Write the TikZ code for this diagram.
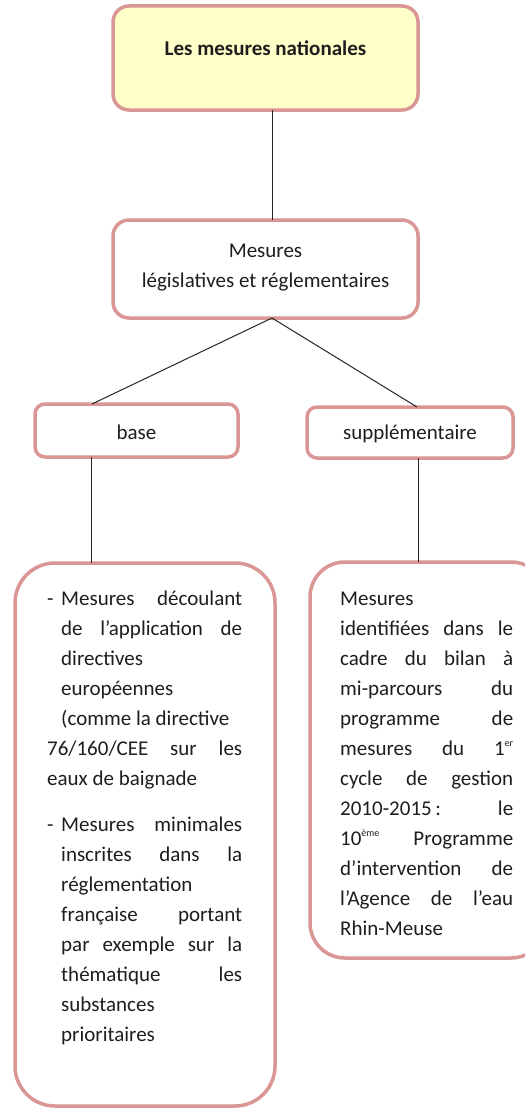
\documentclass[tikz,border=0pt]{standalone}
\usepackage{fontspec}
\setmainfont{Carlito}
\definecolor{pinkc}{RGB}{217,150,148}
\definecolor{yellowc}{RGB}{255,255,200}
\definecolor{textc}{RGB}{30,30,30}
\newcommand{\sj}[2]{\makebox[#1][s]{#2}}
\newcommand{\mysup}[1]{\raisebox{9pt}{\fontsize{10}{10}\selectfont #1}}
\begin{document}
\begin{tikzpicture}[x=1pt,y=-1pt,
  box/.style={draw=pinkc, line width=3.5pt, rectangle, inner sep=0pt, outer sep=0pt},
  lbl/.style={inner sep=0pt, text=textc, font=\fontsize{21}{30}\selectfont},
  conn/.style={draw=black!85, line width=1pt}]
\useasboundingbox (0,0) rectangle (525,1108);
\clip (0,0) rectangle (525,1108);
\fill[white] (0,0) rectangle (525,1108);
% boxes
\node[box, fill=yellowc, rounded corners=16pt, minimum width=305pt, minimum height=104pt] (topbox) at (265.5,58) {};
\node[box, rounded corners=16pt, minimum width=305pt, minimum height=98pt] (midbox) at (265.5,269) {};
\node[box, rounded corners=10pt, minimum width=203pt, minimum height=53pt] (basebox) at (136.5,430.5) {};
\node[box, rounded corners=10pt, minimum width=206pt, minimum height=51pt] (suppbox) at (410,432.5) {};
\node[box, rounded corners=40pt, minimum width=260pt, minimum height=543pt] (leftbox) at (145,834.5) {};
\node[box, rounded corners=35pt, minimum width=236pt, minimum height=396pt] (rightbox) at (428,760) {};
% labels
\node[lbl, font=\fontsize{21}{30}\selectfont\bfseries] (toplbl) at (265.5,48) {Les mesures nationales};
\node[lbl, align=center] (midlbl) at (265.5,268) {Mesures\\législatives et réglementaires};
\node[lbl] (baselbl) at (136.5,432) {base};
\node[lbl] (supplbl) at (410,434) {supplémentaire};
\node[lbl, anchor=base west] (lefttxt) at (47,605) {\parbox[t]{195pt}{\fontsize{21}{30}\selectfont
\makebox[14pt][l]{-}\sj{181pt}{Mesures découlant}\\
\hspace*{14pt}\sj{181pt}{de l’application de}\\
\hspace*{14pt}directives\\
\hspace*{14pt}européennes\\
\hspace*{14pt}(comme la directive\\
\sj{195pt}{76/160/CEE sur les}\\
eaux de baignade\\[16pt]
\makebox[14pt][l]{-}\sj{181pt}{Mesures minimales}\\
\hspace*{14pt}\sj{181pt}{inscrites dans la}\\
\hspace*{14pt}réglementation\\
\hspace*{14pt}\sj{181pt}{française portant}\\
\hspace*{14pt}\sj{181pt}{par exemple sur la}\\
\hspace*{14pt}\sj{181pt}{thématique les}\\
\hspace*{14pt}substances\\
\hspace*{14pt}prioritaires}};
\node[lbl, anchor=base west] (righttxt) at (340,605) {\parbox[t]{173pt}{\fontsize{21}{30}\selectfont
Mesures\\
\sj{173pt}{identifiées dans le}\\
\sj{173pt}{cadre du bilan à}\\
\sj{173pt}{mi-parcours du}\\
\sj{173pt}{programme de}\\
\sj{173pt}{mesures du 1\mysup{er}}\\
\sj{173pt}{cycle de gestion}\\
\sj{173pt}{2010-2015\,: le}\\
\sj{173pt}{10\mysup{ème} Programme}\\
\sj{173pt}{d’intervention de}\\
\sj{173pt}{l’Agence de l’eau}\\
Rhin-Meuse}};
% connectors
\draw[conn] ([xshift=6.5pt]topbox.south) -- ([xshift=6.5pt]midbox.north);
\draw[conn] ([xshift=6.5pt]midbox.south) -- ([xshift=-44.5pt]basebox.north);
\draw[conn] ([xshift=6.5pt]midbox.south) -- ([xshift=7pt]suppbox.north);
\draw[conn] ([xshift=-45.5pt]basebox.south) -- ([xshift=-45.5pt]basebox.south |- leftbox.north);
\draw[conn] ([xshift=8pt]suppbox.south) -- ([xshift=8pt]suppbox.south |- rightbox.north);
\end{tikzpicture}
\end{document}
